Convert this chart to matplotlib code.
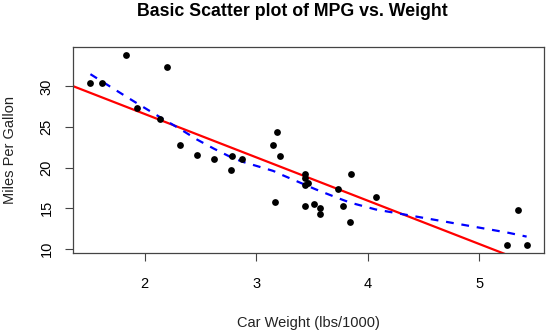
import numpy as np
import matplotlib.pyplot as plt

plt.rcParams['font.family'] = ['Liberation Sans', 'DejaVu Sans']

# mtcars: weight (1000 lbs) and miles per gallon
wt = [2.620, 2.875, 2.320, 3.215, 3.440, 3.460, 3.570, 3.190, 3.150, 3.440,
      3.440, 4.070, 3.730, 3.780, 5.250, 5.424, 5.345, 2.200, 1.615, 1.835,
      2.465, 3.520, 3.435, 3.840, 3.845, 1.935, 2.140, 1.513, 3.170, 2.770,
      3.570, 2.780]
mpg = [21.0, 21.0, 22.8, 21.4, 18.7, 18.1, 14.3, 24.4, 22.8, 19.2,
       17.8, 16.4, 17.3, 15.2, 10.4, 10.4, 14.7, 32.4, 30.4, 33.9,
       21.5, 15.5, 15.2, 13.3, 19.2, 27.3, 26.0, 30.4, 15.8, 19.7,
       15.0, 21.4]

x_ticks = [2, 3, 4, 5]
y_ticks = [10, 15, 20, 25, 30]


def lowess(x, y, f=2 / 3, iters=3):
    # port of R's clowess (without the delta speed-up)
    order = np.argsort(x, kind='mergesort')
    x = np.asarray(x, float)[order]
    y = np.asarray(y, float)[order]
    n = len(x)
    ns = max(min(int(f * n + 1e-7), n), 2)
    rng = x[-1] - x[0]
    rw = np.ones(n)
    ys = np.zeros(n)
    for it in range(iters + 1):
        nleft, nright = 0, ns - 1
        for i in range(n):
            while nright < n - 1 and x[i] - x[nleft] > x[nright + 1] - x[i]:
                nleft += 1
                nright += 1
            h = max(x[i] - x[nleft], x[nright] - x[i])
            r = np.abs(x - x[i])
            w = np.zeros(n)
            inside = r <= 0.999 * h
            small = r <= 0.001 * h
            w[inside] = (1 - (r[inside] / h) ** 3) ** 3 if h > 0 else 1
            w[small] = 1
            w *= rw
            if w.sum() <= 0:
                ys[i] = y[i]
                continue
            w /= w.sum()
            if h > 0:
                a = np.sum(w * x)
                b = x[i] - a
                c = np.sum(w * (x - a) ** 2)
                if np.sqrt(c) > 0.001 * rng:
                    w = w * (b / c * (x - a) + 1)
            ys[i] = np.sum(w * y)
        if it == iters:
            break
        res = np.abs(y - ys)
        cmad = 6 * np.median(res)
        if cmad < 1e-7 * res.mean():
            break
        rw = np.where(res <= 0.001 * cmad, 1.0,
                      np.where(res <= 0.999 * cmad, (1 - (res / cmad) ** 2) ** 2, 0.0))
    return x, ys


fig = plt.figure(figsize=(5.54, 3.32), dpi=100)
ax = fig.add_axes([0.1318, 0.238, 0.8502, 0.620])

ax.scatter(wt, mpg, s=24, color='black', zorder=3, linewidths=0)

slope, intercept = np.polyfit(wt, mpg, 1)
xl = np.array([0, 7])
ax.plot(xl, intercept + slope * xl, color='red', lw=1.6, zorder=2)

lx, ly = lowess(wt, mpg)
ax.plot(lx, ly, color='blue', lw=1.6, dashes=(3.5, 3.5), zorder=2)

ax.set_xlim(1.357, 5.580)
ax.set_ylim(9.46, 34.84)
ax.set_xticks(x_ticks)
ax.set_yticks(y_ticks)
ax.set_yticklabels([str(v) for v in y_ticks], rotation=90, va='center')
ax.tick_params(direction='out', length=6, width=0.8, labelsize=10.5, pad=8,
               color='#444444')
ax.tick_params(axis='x', pad=11)
for s in ax.spines.values():
    s.set_color('#444444')
    s.set_linewidth(0.9)

ax.set_xlabel('Car Weight (lbs/1000)', fontsize=10.5, labelpad=18, color='#222222')
ax.set_ylabel('Miles Per Gallon', fontsize=10.5, labelpad=16, color='#222222')
fig.text(292 / 554, 1 - 12 / 332, 'Basic Scatter plot of MPG vs. Weight',
         ha='center', va='center', fontsize=12.8, fontweight='bold')

fig.savefig('out.png', dpi=100)
